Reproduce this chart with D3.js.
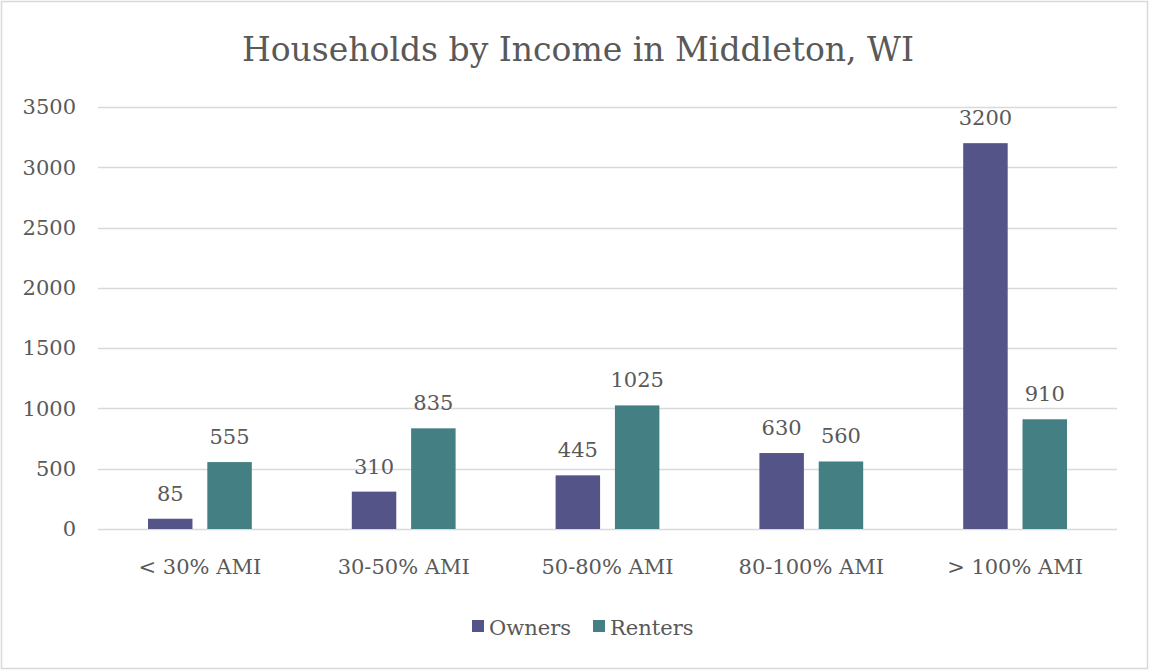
<!DOCTYPE html>
<html>
<head>
<meta charset="utf-8">
<script src="https://cdn.jsdelivr.net/npm/d3@7"></script>
<style>
  body { margin: 0; background: #fff; }
  svg text { font-family: 'DejaVu Serif', 'Liberation Serif', serif; fill: #595959; }
</style>
</head>
<body>
<div class="canvas"></div>
<script>
// data
const categories = ['< 30% AMI', '30-50% AMI', '50-80% AMI', '80-100% AMI', '> 100% AMI'];
const seriesNames = ['Owners', 'Renters'];
const owners = [85, 310, 445, 630, 3200];
const renters = [555, 835, 1025, 560, 910];
const yTicks = [0, 500, 1000, 1500, 2000, 2500, 3000, 3500];
const colors = ['#545488', '#437f83'];

const width = 1150;
const height = 671;
const margin = { top: 107, right: 33, bottom: 142, left: 98 };
const graphWidth = width - margin.left - margin.right;
const graphHeight = height - margin.top - margin.bottom;

const svg = d3
  .select('.canvas')
  .append('svg')
  .attr('width', width)
  .attr('height', height);

// outer border
svg
  .append('rect')
  .attr('x', 1.5)
  .attr('y', 1.5)
  .attr('width', width - 4)
  .attr('height', height - 4)
  .attr('fill', '#fff')
  .attr('stroke', '#d9d9d9')
  .attr('stroke-width', 1.5);

// title
svg
  .append('text')
  .attr('x', 578)
  .attr('y', 61)
  .attr('text-anchor', 'middle')
  .style('font-size', '33px')
  .text('Households by Income in Middleton, WI');

const graph = svg
  .append('g')
  .attr('transform', `translate(${margin.left}, ${margin.top})`);

// scales
const x0 = d3.scaleBand().domain(categories).range([0, graphWidth]).paddingInner(0).paddingOuter(0);
const x1 = d3
  .scaleBand()
  .domain(seriesNames)
  .range([50, x0.bandwidth() - 50])
  .paddingInner(0.25);
const y = d3.scaleLinear().domain([0, 3500]).range([graphHeight, 0]);

// gridlines
graph
  .append('g')
  .selectAll('line')
  .data(yTicks)
  .enter()
  .append('line')
  .attr('x1', 0)
  .attr('x2', graphWidth)
  .attr('y1', d => Math.round(y(d)) + 0.5)
  .attr('y2', d => Math.round(y(d)) + 0.5)
  .attr('stroke', '#d9d9d9')
  .attr('stroke-width', 1.5);

// y axis labels
const yAxis = d3
  .axisLeft(y)
  .tickValues(yTicks)
  .tickFormat(d3.format('d'))
  .tickSize(0)
  .tickPadding(22);
const yAxisGroup = graph.append('g').call(yAxis);
yAxisGroup.select('.domain').remove();
yAxisGroup.selectAll('text').style('font-size', '21px').attr('fill', '#595959');

// x axis labels
const xAxis = d3.axisBottom(x0).tickSize(0).tickPadding(30);
const xAxisGroup = graph.append('g').attr('transform', `translate(0, ${graphHeight})`).call(xAxis);
xAxisGroup.select('.domain').remove();
xAxisGroup.selectAll('text').style('font-size', '21px').attr('fill', '#595959');

// bars
const rows = categories.map((c, i) => ({ cat: c, values: [owners[i], renters[i]] }));

const groups = graph
  .selectAll('.group')
  .data(rows)
  .enter()
  .append('g')
  .attr('class', 'group')
  .attr('transform', d => `translate(${x0(d.cat)}, 0)`);

const bars = groups
  .selectAll('g.bar')
  .data(d => d.values.map((v, j) => ({ name: seriesNames[j], value: v, j })))
  .enter()
  .append('g')
  .attr('class', 'bar');

bars
  .append('rect')
  .attr('x', d => x1(d.name))
  .attr('y', d => y(d.value))
  .attr('width', x1.bandwidth())
  .attr('height', d => graphHeight - y(d.value))
  .attr('fill', d => colors[d.j]);

// value labels above bars
bars
  .append('text')
  .attr('x', d => x1(d.name) + x1.bandwidth() / 2)
  .attr('y', d => y(d.value) - 18)
  .attr('text-anchor', 'middle')
  .style('font-size', '21px')
  .text(d => d.value);

// legend
const legend = svg.append('g').attr('transform', 'translate(472, 620)');
const legendX = [0, 121];
seriesNames.forEach((name, i) => {
  legend
    .append('rect')
    .attr('x', legendX[i])
    .attr('y', 0)
    .attr('width', 12)
    .attr('height', 12)
    .attr('fill', colors[i]);
  legend
    .append('text')
    .attr('x', legendX[i] + 17)
    .attr('y', 15)
    .style('font-size', '21px')
    .text(name);
});
</script>
</body>
</html>
